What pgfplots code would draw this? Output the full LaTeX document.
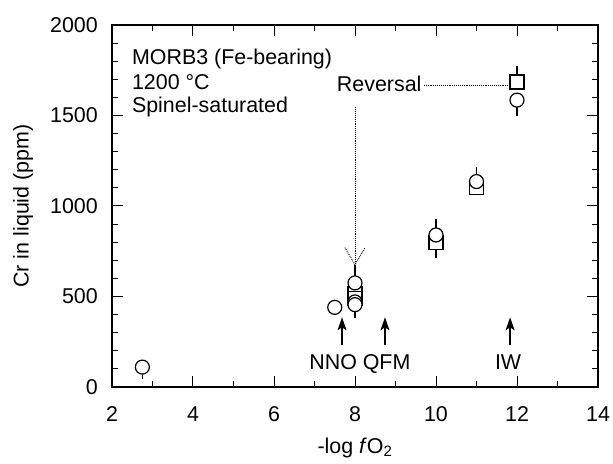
\documentclass[border=0pt]{standalone}
\usepackage{fontspec}
\setmainfont{Liberation Sans}
\usepackage{pgfplots}
\pgfplotsset{compat=1.18}
\usetikzlibrary{arrows.meta}
\pgfplotstableread{
x y ep em
8.0 515 0 0
8.0 490 0 0
10 800 0 55
11 1100 0 0
12 1685 55 0
}\squares
\pgfplotstableread{
x y ep em
2.75 110 0 35
7.5 440 0 0
8.0 470 0 0
8.0 455 0 40
8.0 575 65 0
10 840 55 0
11 1135 50 0
12 1585 0 55
}\circles
\begin{document}
\begin{tikzpicture}[font=\fontsize{21.5}{25}\selectfont]
\useasboundingbox (-112bp,-77bp) rectangle (501bp,387bp);
\begin{axis}[
 at={(0,0)}, anchor=south west,
 scale only axis, width=486bp, height=362bp,
 xmin=2, xmax=14, ymin=0, ymax=2000,
 xtick={2,4,...,14}, ytick={0,500,...,2000},
 minor x tick num=1, minor y tick num=4,
 tick align=inside,
 major tick length=11bp, minor tick length=6bp,
 axis line style={line width=1.2bp},
 every tick/.style={black, line width=1bp},
 tick label style={font=\fontsize{21.5}{25}\selectfont},
 /pgf/number format/assume math mode=true,
 /pgf/number format/1000 sep={},
 xticklabel style={anchor=base, inner sep=0, yshift=-34bp},
 yticklabel style={anchor=east, inner sep=0, xshift=-14bp},
 xlabel={-log \textit{f}O\textsubscript{2}},
 ylabel={Cr in liquid (ppm)},
 xlabel style={at={(axis description cs:0.5,-0.1685)}, anchor=center},
 ylabel style={at={(axis description cs:-0.1831,0.5)}, anchor=center},
 label style={font=\fontsize{21.5}{25}\selectfont},
 clip=false,
]
\addplot[only marks, black, mark=square*, mark size=7bp,
  mark options={fill=white, line width=1.2bp},
  error bars/.cd, y dir=both, y explicit,
  error bar style={line width=1.1bp, black},
  error mark options={line width=1.1bp, black, mark size=6bp}]
  table[x=x, y=y, y error plus=ep, y error minus=em] {\squares};
\addplot[only marks, black, mark=*, mark size=7bp,
  mark options={fill=white, line width=1.2bp},
  error bars/.cd, y dir=both, y explicit,
  error bar style={line width=1.1bp, black},
  error mark options={line width=1.1bp, black, mark size=6bp}]
  table[x=x, y=y, y error plus=ep, y error minus=em] {\circles};
% text block
\node[anchor=base west, inner sep=0] at (axis cs:2.49,1779) {MORB3 (Fe-bearing)};
\node[anchor=base west, inner sep=0] at (axis cs:2.49,1645) {1200 °C};
\node[anchor=base west, inner sep=0] at (axis cs:2.49,1515) {Spinel-saturated};
% reversal annotation
\node[anchor=base west, inner sep=0] at (axis cs:7.55,1630) {Reversal};
\draw[densely dotted, line width=0.9bp] (axis cs:9.7,1668) -- (axis cs:11.82,1668);
\draw[densely dotted, line width=0.9bp] (axis cs:8.0,1545) -- (axis cs:8.0,676);
\draw[densely dotted, line width=0.9bp] (axis cs:7.75,770) -- (axis cs:8.0,676) -- (axis cs:8.25,770);
% buffer arrows
\draw[-{Stealth[length=13bp,width=9bp,inset=3bp]}, line width=1.3bp] (axis cs:7.68,232) -- (axis cs:7.68,385);
\draw[-{Stealth[length=13bp,width=9bp,inset=3bp]}, line width=1.3bp] (axis cs:8.74,232) -- (axis cs:8.74,385);
\draw[-{Stealth[length=13bp,width=9bp,inset=3bp]}, line width=1.3bp] (axis cs:11.83,232) -- (axis cs:11.83,385);
\node[anchor=base, inner sep=0] at (axis cs:7.46,94) {NNO};
\node[anchor=base, inner sep=0] at (axis cs:8.78,94) {QFM};
\node[anchor=base, inner sep=0] at (axis cs:11.78,94) {IW};
\end{axis}
\end{tikzpicture}
\end{document}
